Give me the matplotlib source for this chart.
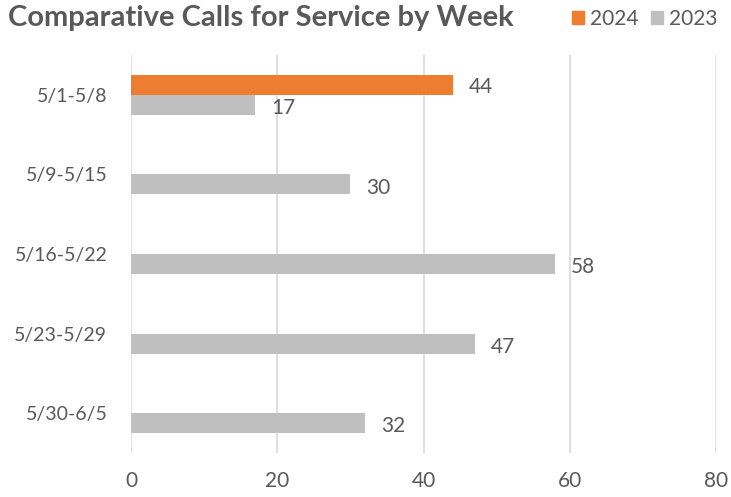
import matplotlib.pyplot as plt
import numpy as np

plt.rcParams['font.family'] = ['Lato', 'DejaVu Sans']

weeks = ['5/1-5/8', '5/9-5/15', '5/16-5/22', '5/23-5/29', '5/30-6/5']
calls_2024 = [44, None, None, None, None]
calls_2023 = [17, 30, 58, 47, 32]
ticks = [0, 20, 40, 60, 80]

text_col = '#595959'
orange = '#ED7D31'
gray = '#BFBFBF'

fig = plt.figure(figsize=(7.31, 4.97), dpi=100)
ax = fig.add_axes([0.1792, 0.0885, 0.8003, 0.8008])

y = np.arange(len(weeks))
h = 0.25
for i, v in enumerate(calls_2024):
    if v is not None:
        ax.barh(y[i] - h / 2, v, height=h, color=orange, zorder=3)
        ax.text(v + 2.2, y[i] - h / 2 + 0.03, str(v), va='center', ha='left',
                fontsize=15, color=text_col)
ax.barh(y + h / 2, calls_2023, height=h, color=gray, zorder=3)
for i, v in enumerate(calls_2023):
    ax.text(v + 2.2, y[i] + h / 2 + 0.04, str(v), va='center', ha='left',
            fontsize=15, color=text_col)

ax.set_xlim(0, 80)
ax.set_ylim(len(weeks) - 0.5, -0.5)
ax.set_xticks(ticks)
ax.set_xticklabels([str(t) for t in ticks])
ax.set_yticks(y)
ax.set_yticklabels(weeks)
ax.tick_params(axis='both', length=0, labelcolor=text_col)
ax.tick_params(axis='x', pad=13, labelsize=15)
ax.tick_params(axis='y', pad=17, labelsize=14)
ax.grid(axis='x', color='#D9D9D9', linewidth=1.2, zorder=0)
for s in ax.spines.values():
    s.set_visible(False)

fig.text(0.011, 0.963, 'Comparative Calls for Service by Week', fontsize=21,
         fontweight='bold', color=text_col, va='center', ha='left')

# legend
handles = [plt.Rectangle((0, 0), 1, 1, color=orange),
           plt.Rectangle((0, 0), 1, 1, color=gray)]
fig.legend(handles, ['2024', '2023'], loc='center right',
           bbox_to_anchor=(1.007, 0.962), ncol=2, frameon=False,
           fontsize=15, labelcolor=text_col, handlelength=0.55,
           handleheight=0.55, handletextpad=0.3, columnspacing=0.6)

fig.savefig('out.png', dpi=100)
